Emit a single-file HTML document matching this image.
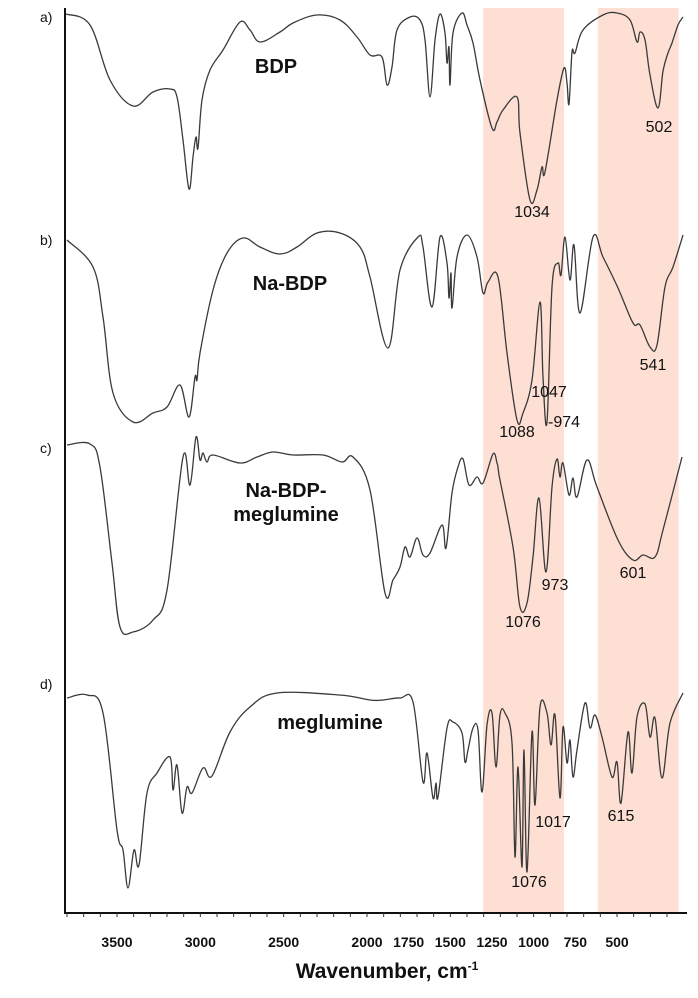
<!DOCTYPE html>
<html><head><meta charset="utf-8"><style>
html,body{margin:0;padding:0;background:#fff;}
svg{display:block;font-family:"Liberation Sans",Arial,sans-serif;}
</style></head><body>
<svg id="chart" width="698" height="998" viewBox="0 0 698 998" xmlns="http://www.w3.org/2000/svg">
<g id="bands"></g>
<g id="spectra"></g>
<g id="axes"></g>
<g id="labels"></g>
</svg>
<script>
// Wavenumber bands highlighted
const bandStarts = [1303, 615];
const bandEnds = [818, 130];
// Panel names
const panelIds = ['a)', 'b)', 'c)', 'd)'];
const sampleNames = [['BDP'], ['Na-BDP'], ['Na-BDP-', 'meglumine'], ['meglumine']];
// X ticks
const tickValues = [3500, 3000, 2500, 2000, 1750, 1500, 1250, 1000, 750, 500];
const tickLabels = ['3500', '3000', '2500', '2000', '1750', '1500', '1250', '1000', '750', '500'];

// Spectrum a) BDP
const wnA = [3806,3662,3542,3404,3284,3182,3140,3104,3068,3044,3026,3014,2990,2942,2864,2762,2702,2642,2522,2444,2300,2162,2060,1982,1910,1880,1850,1820,1742,1682,1652,1622,1592,1562,1532,1520,1508,1502,1484,1430,1400,1364,1322,1250,1220,1184,1100,1082,1022,980,950,932,860,818,800,788,770,752,704,584,500,422,380,362,332,302,254,224,194,170,134,104];
const tA = [99.5,94,66.5,53.5,60.5,62,58,36.5,12,28,38,32.5,56.5,71.5,81.5,95.5,91.5,85.5,90.5,95,99,96.5,88,79,78,64,73,91.5,98,96.5,86.5,58,86.5,99.5,90,75,83,64,90,100,94,85,66.5,42.5,45.5,51.5,58,40,6.5,11.5,23,20.5,56.5,72.5,65,54.5,80.5,80,91.5,99,100,96.5,85.5,90.5,86.5,69,52.5,71,80,85,94,98];
// Spectrum b) Na-BDP
const wnB = [3800,3644,3584,3524,3404,3284,3200,3122,3068,3032,3020,3002,2924,2840,2744,2642,2522,2420,2300,2162,2042,1982,1874,1802,1694,1664,1610,1562,1520,1508,1496,1490,1460,1400,1340,1304,1274,1214,1160,1100,1064,1010,962,944,920,890,854,836,812,782,758,722,644,584,494,404,362,302,260,212,164,104];
const tB = [96.5,83,58,20,5.5,10,13,24,8,28,26.5,40,71.5,90,97.5,93,89.5,93,100,100,93,78,42.5,81.5,98,93,63,98,85,67.5,80,62.5,88,99,88,70,75.5,78,40,6.5,10,26.5,65.5,28,5.5,73,85,79,98,76.5,94,60,98,88,72.5,55,54,43,44,73,83,99];
// Spectrum c) Na-BDP-meglumine
const wnC = [3800,3662,3602,3530,3482,3404,3284,3200,3104,3062,3026,3002,2984,2960,2924,2762,2660,2564,2444,2264,2150,2084,1982,1892,1844,1802,1772,1742,1700,1664,1622,1550,1526,1490,1454,1424,1388,1340,1304,1244,1220,1208,1124,1082,1040,1004,968,926,890,860,842,824,788,764,740,680,620,494,404,344,272,224,110];
const tC = [96,96.5,85,37,5,2.5,8.5,23.5,90,76,100,88.5,92,87.5,91,87,90,92.5,91,91,87.5,90,73.5,22,28.5,35,45,40,49.5,41,42,56,44.5,72,85,89,76,80,77,91.5,87,81,45,15,17,40,69.5,32.5,75,89,80,87,71,79.5,70,88.5,75,48.5,38.5,41,40,53.5,90];
// Spectrum d) meglumine
const wnD = [3800,3680,3584,3500,3464,3434,3398,3368,3320,3260,3182,3164,3140,3110,3080,3050,2984,2930,2822,2702,2540,2162,1982,1904,1802,1724,1664,1640,1604,1586,1574,1520,1484,1430,1412,1394,1364,1334,1310,1280,1250,1226,1202,1172,1130,1112,1094,1070,1058,1040,1010,992,962,920,896,872,842,824,800,782,764,740,692,662,632,590,530,500,476,434,410,380,332,302,272,230,182,104];
const tD = [97.5,99,90,31.5,21.5,2.5,21.5,14,50,60,68,51.5,64,40,53,50,62.5,58.5,80.5,93,100,99,96.5,96.5,97.5,95.5,55.5,70,47.5,55,48,82.5,85.5,80,65.5,71.5,82.5,81.5,50.5,84,90,63,89,90,75,18,63,13,71.5,10.5,80.5,44,93,90,74,89,47.5,83,65,76.5,58,71.5,95,82.5,89,78,58,65.5,45,80.5,60,88,94.5,78,87.5,57.5,85,100];

const seriesWn = [wnA, wnB, wnC, wnD];
const seriesT = [tA, tB, tC, tD];

const NS = 'http://www.w3.org/2000/svg';
const panelTops = [13, 233, 437, 693];
const xScale = w => (4202 - w) / 6;
const yScale = (p, t) => panelTops[p] + (100 - t) * 2;
function mk(tag, attrs, parent) {
  const e = document.createElementNS(NS, tag);
  for (const k in attrs) e.setAttribute(k, attrs[k]);
  parent.appendChild(e);
  return e;
}
function smoothPath(P) {
  let d = 'M' + P[0][0].toFixed(1) + ',' + P[0][1].toFixed(1);
  const k = 0.35;
  for (let i = 0; i < P.length - 1; i++) {
    const p0 = P[Math.max(0, i - 1)], p1 = P[i], p2 = P[i + 1], p3 = P[Math.min(P.length - 1, i + 2)];
    const dx = p2[0] - p1[0];
    let c1x = p1[0] + (p2[0] - p0[0]) * k / 2, c1y = p1[1] + (p2[1] - p0[1]) * k / 2;
    let c2x = p2[0] - (p3[0] - p1[0]) * k / 2, c2y = p2[1] - (p3[1] - p1[1]) * k / 2;
    c1x = Math.min(Math.max(c1x, p1[0]), p1[0] + dx);
    c2x = Math.min(Math.max(c2x, p1[0]), p2[0]);
    d += ' C' + c1x.toFixed(1) + ',' + c1y.toFixed(1) + ' ' + c2x.toFixed(1) + ',' + c2y.toFixed(1) + ' ' + p2[0].toFixed(1) + ',' + p2[1].toFixed(1);
  }
  return d;
}
const gB = document.getElementById('bands');
bandStarts.forEach((s, i) => {
  const r = mk('rect', {x: xScale(s), y: 8, width: xScale(bandEnds[i]) - xScale(s), height: 905, fill: '#fde0d3'}, gB);
  
  
});
const gS = document.getElementById('spectra');
const specNames = ['spectrum-bdp', 'spectrum-na-bdp', 'spectrum-na-bdp-meglumine', 'spectrum-meglumine'];
seriesWn.forEach((wn, p) => {
  const P = wn.map((w, i) => [xScale(w), yScale(p, seriesT[p][i])]);
  const pl = mk('path', {d: smoothPath(P), fill: 'none', stroke: '#3a3a3a', 'stroke-width': 1.3, 'stroke-linejoin': 'round'}, gS);
  
  
});
const gA = document.getElementById('axes');
const yAx = mk('line', {x1: 65, y1: 8, x2: 65, y2: 914, stroke: '#111', 'stroke-width': 2}, gA);


const xAx = mk('line', {x1: 64, y1: 913, x2: 687, y2: 913, stroke: '#111', 'stroke-width': 2}, gA);


for (let w = 3800; w >= 200; w -= 100) {
  const t = mk('line', {x1: xScale(w), y1: 913, x2: xScale(w), y2: 917, stroke: '#333', 'stroke-width': 1}, gA);
  
  
}
tickValues.forEach((v, i) => {
  const t = mk('text', {x: xScale(v), y: 947, 'text-anchor': 'middle', 'font-size': 14, 'font-weight': 'bold', fill: '#111'}, gA);
  t.textContent = tickLabels[i];
  
  
});
const ttl = mk('text', {x: 387, y: 978, 'text-anchor': 'middle', 'font-size': 21, 'font-weight': 'bold', fill: '#111'}, gA);
ttl.innerHTML = 'Wavenumber, cm<tspan dy="-8" font-size="12">-1</tspan>';



const gL = document.getElementById('labels');
const idY = [22, 245, 453, 689];
panelIds.forEach((s, i) => {
  const t = mk('text', {x: 40, y: idY[i], 'font-size': 14, fill: '#111'}, gL);
  t.textContent = s;
  
  
});
const nameX = [276, 290, 286, 330];
const nameY = [[73], [290], [497, 521], [729]];
sampleNames.forEach((lines, i) => {
  lines.forEach((s, j) => {
    const t = mk('text', {x: nameX[i], y: nameY[i][j], 'text-anchor': 'middle', 'font-size': 20, 'font-weight': 'bold', fill: '#111'}, gL);
    t.textContent = s;
    
    
  });
});
const peakText = ['1034', '502', '1047', '-974', '1088', '541', '973', '1076', '601', '1017', '1076', '615'];
const peakX = [532, 659, 549, 564, 517, 653, 555, 523, 633, 553, 529, 621];
const peakY = [217, 132, 397, 427, 437, 370, 590, 627, 578, 827, 887, 821];
peakText.forEach((s, i) => {
  const t = mk('text', {x: peakX[i], y: peakY[i], 'text-anchor': 'middle', 'font-size': 16, fill: '#111'}, gL);
  t.textContent = s;
  
  
});
</script>
</body></html>
